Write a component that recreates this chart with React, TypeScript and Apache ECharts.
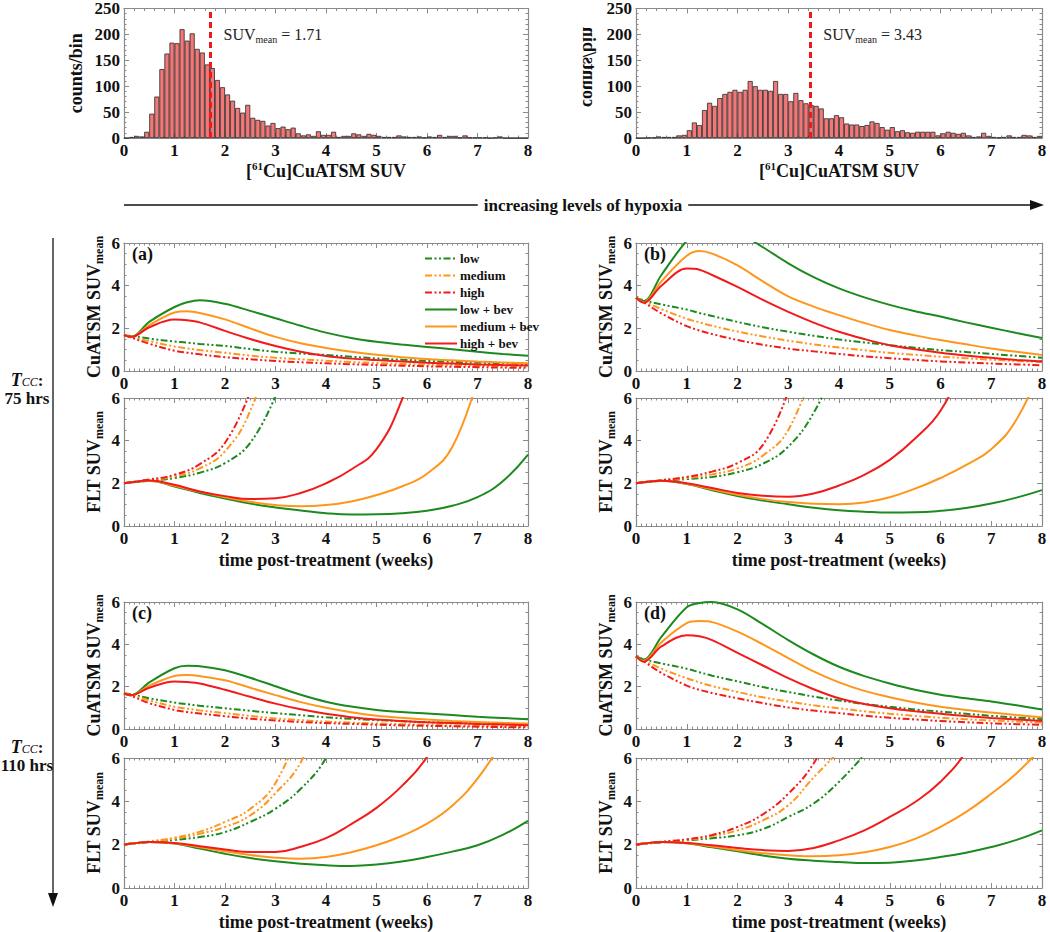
import React, { useEffect, useRef } from "react";
import * as echarts from "echarts";

const FONT = '"Liberation Serif", "DejaVu Serif", serif';
const GREEN = "#1c8a1f";
const ORANGE = "#ff961c";
const RED = "#f21b1b";
const FRAME = "#8a8a8a";
const INK = "#111111";
const BAR_FILL = "#f37777";

// ---------- histogram data (bin width 0.1, SUV 0..8) ----------
const BIN = 0.1;
const HIST_LOW = [
  0, 2, 4, 3, 12, 47, 80, 133, 163, 184, 183, 210, 188, 202, 172, 165, 142, 135, 112, 98,
  84, 72, 58, 49, 64, 39, 35, 33, 24, 29, 19, 22, 17, 20, 9, 5, 7, 4, 13, 6,
  6, 12, 2, 4, 4, 9, 7, 4, 8, 6, 4, 2, 2, 2, 5, 3, 2, 2, 3, 1,
  3, 2, 6, 2, 4, 4, 1, 5, 1, 1, 1, 1, 0, 1, 3, 0, 0, 0, 0, 0,
];
const HIST_HIGH = [
  0, 0, 1, 1, 3, 2, 2, 2, 5, 6, 15, 30, 25, 54, 68, 62, 77, 85, 89, 93,
  89, 93, 110, 100, 93, 93, 91, 110, 85, 85, 71, 87, 73, 67, 64, 62, 57, 38, 38, 44,
  40, 28, 26, 26, 23, 25, 32, 29, 21, 16, 21, 13, 15, 11, 10, 12, 12, 12, 12, 5,
  9, 12, 10, 8, 10, 5, 2, 3, 10, 4, 2, 1, 2, 5, 2, 2, 6, 5, 2, 4,
];
const MEAN_LOW = 1.71;
const MEAN_HIGH = 3.43;
const MEAN_LABEL_LOW_AT = [1.96, 200];
const MEAN_LABEL_HIGH_AT = [3.68, 200];

// ---------- model curves (time in weeks) ----------
const T_CU = [0, 0.15, 0.5, 1, 1.25, 1.5, 2, 2.5, 3, 3.5, 4, 4.5, 5, 5.5, 6, 6.5, 7, 7.5, 8];
const T_FLT = [0, 0.15, 0.5, 1, 1.5, 2, 2.5, 3, 3.5, 4, 4.5, 5, 5.5, 6, 6.5, 7, 7.5, 8];
const SERIES_NAMES = ["low", "medium", "high", "low + bev", "medium + bev", "high + bev"];

// (a) Tcc 75 h, low-hypoxia tumour
const A_CU_LOW = [1.68, 1.64, 1.52, 1.38, 1.33, 1.27, 1.17, 1.03, 0.9, 0.82, 0.75, 0.67, 0.59, 0.53, 0.47, 0.43, 0.39, 0.36, 0.33];
const A_CU_MED = [1.68, 1.6, 1.4, 1.15, 1.06, 0.98, 0.85, 0.72, 0.62, 0.55, 0.48, 0.42, 0.37, 0.33, 0.3, 0.27, 0.25, 0.23, 0.21];
const A_CU_HIGH = [1.68, 1.56, 1.28, 0.95, 0.86, 0.78, 0.65, 0.55, 0.47, 0.41, 0.36, 0.32, 0.28, 0.25, 0.22, 0.2, 0.18, 0.16, 0.15];
const A_CU_LOW_BEV = [1.68, 1.6, 2.3, 3.0, 3.22, 3.32, 3.15, 2.82, 2.47, 2.12, 1.8, 1.55, 1.37, 1.24, 1.13, 1.02, 0.9, 0.8, 0.72];
const A_CU_MED_BEV = [1.68, 1.6, 2.15, 2.74, 2.8, 2.72, 2.42, 2.0, 1.6, 1.3, 1.08, 0.9, 0.76, 0.65, 0.56, 0.5, 0.44, 0.4, 0.36];
const A_CU_HIGH_BEV = [1.68, 1.6, 2.05, 2.41, 2.38, 2.28, 1.88, 1.5, 1.17, 0.9, 0.7, 0.58, 0.51, 0.45, 0.39, 0.35, 0.31, 0.28, 0.26];
const A_FLT_LOW = [2.0, 2.04, 2.12, 2.25, 2.5, 2.95, 3.9, 6.1];
const A_FLT_MED = [2.0, 2.05, 2.15, 2.32, 2.7, 3.5, 5.4, 9.0];
const A_FLT_HIGH = [2.0, 2.06, 2.18, 2.4, 2.9, 3.9, 6.3];
const A_FLT_LOW_BEV = [2.0, 2.05, 2.12, 1.85, 1.55, 1.29, 1.05, 0.87, 0.73, 0.6, 0.54, 0.55, 0.6, 0.72, 0.95, 1.35, 2.1, 3.35];
const A_FLT_MED_BEV = [2.0, 2.05, 2.12, 1.88, 1.6, 1.35, 1.13, 0.98, 0.92, 0.98, 1.15, 1.45, 1.85, 2.45, 3.7, 6.9];
const A_FLT_HIGH_BEV = [2.0, 2.05, 2.13, 1.93, 1.62, 1.4, 1.26, 1.3, 1.55, 2.0, 2.65, 3.6, 5.9, 9.5];

// (b) Tcc 75 h, high-hypoxia tumour
const B_CU_LOW = [3.43, 3.32, 3.12, 2.88, 2.72, 2.58, 2.3, 2.05, 1.84, 1.65, 1.48, 1.34, 1.21, 1.09, 0.98, 0.89, 0.8, 0.71, 0.62];
const B_CU_MED = [3.43, 3.28, 2.9, 2.45, 2.28, 2.12, 1.85, 1.62, 1.42, 1.25, 1.1, 0.97, 0.85, 0.76, 0.67, 0.6, 0.53, 0.47, 0.42];
const B_CU_HIGH = [3.43, 3.22, 2.7, 2.1, 1.9, 1.73, 1.45, 1.23, 1.05, 0.92, 0.8, 0.69, 0.6, 0.52, 0.45, 0.4, 0.35, 0.31, 0.27];
const B_CU_LOW_BEV = [3.43, 3.28, 4.5, 6.1, 6.5, 6.8, 6.5, 5.8, 5.05, 4.4, 3.87, 3.45, 3.1, 2.8, 2.55, 2.28, 2.03, 1.78, 1.55];
const B_CU_MED_BEV = [3.43, 3.22, 4.2, 5.4, 5.62, 5.5, 4.95, 4.2, 3.5, 3.02, 2.62, 2.25, 1.92, 1.67, 1.45, 1.25, 1.06, 0.9, 0.75];
const B_CU_HIGH_BEV = [3.43, 3.2, 4.0, 4.8, 4.75, 4.5, 3.94, 3.33, 2.77, 2.27, 1.84, 1.5, 1.21, 1.02, 0.86, 0.73, 0.62, 0.52, 0.44];
const B_FLT_LOW = [2.0, 2.04, 2.12, 2.2, 2.3, 2.52, 2.92, 3.72, 5.3, 7.8];
const B_FLT_MED = [2.0, 2.05, 2.13, 2.25, 2.42, 2.7, 3.3, 4.5, 7.5];
const B_FLT_HIGH = [2.0, 2.06, 2.15, 2.3, 2.55, 2.95, 3.8, 6.3];
const B_FLT_LOW_BEV = [2.0, 2.05, 2.12, 1.97, 1.68, 1.4, 1.19, 1.02, 0.86, 0.74, 0.67, 0.63, 0.64, 0.71, 0.84, 1.05, 1.33, 1.68];
const B_FLT_MED_BEV = [2.0, 2.05, 2.12, 1.98, 1.72, 1.46, 1.26, 1.12, 1.04, 1.02, 1.1, 1.35, 1.75, 2.25, 2.85, 3.6, 5.0, 7.6];
const B_FLT_HIGH_BEV = [2.0, 2.05, 2.12, 2.0, 1.78, 1.55, 1.42, 1.37, 1.52, 1.9, 2.4, 3.1, 4.1, 5.4, 7.8];

// (c) Tcc 110 h, low-hypoxia tumour
const C_CU_LOW = [1.68, 1.64, 1.45, 1.25, 1.17, 1.1, 0.98, 0.86, 0.75, 0.65, 0.55, 0.48, 0.42, 0.37, 0.32, 0.29, 0.26, 0.23, 0.2];
const C_CU_MED = [1.68, 1.6, 1.35, 1.05, 0.96, 0.88, 0.75, 0.62, 0.5, 0.42, 0.35, 0.3, 0.26, 0.23, 0.2, 0.17, 0.15, 0.13, 0.12];
const C_CU_HIGH = [1.68, 1.56, 1.22, 0.9, 0.8, 0.73, 0.6, 0.49, 0.4, 0.33, 0.28, 0.24, 0.2, 0.17, 0.15, 0.13, 0.11, 0.09, 0.08];
const C_CU_LOW_BEV = [1.68, 1.6, 2.2, 2.87, 2.99, 2.97, 2.78, 2.42, 2.02, 1.62, 1.29, 1.06, 0.9, 0.8, 0.73, 0.66, 0.58, 0.52, 0.46];
const C_CU_MED_BEV = [1.68, 1.6, 2.05, 2.5, 2.55, 2.5, 2.3, 1.95, 1.6, 1.27, 1.0, 0.79, 0.63, 0.53, 0.45, 0.38, 0.33, 0.29, 0.26];
const C_CU_HIGH_BEV = [1.68, 1.6, 1.95, 2.25, 2.22, 2.15, 1.85, 1.52, 1.2, 0.93, 0.72, 0.56, 0.45, 0.38, 0.32, 0.28, 0.24, 0.21, 0.18];
const C_FLT_LOW = [2.0, 2.04, 2.12, 2.22, 2.35, 2.58, 3.05, 3.66, 4.58, 6.0, 8.5];
const C_FLT_MED = [2.0, 2.05, 2.13, 2.28, 2.5, 2.82, 3.35, 4.38, 5.8, 8.5];
const C_FLT_HIGH = [2.0, 2.06, 2.15, 2.32, 2.6, 3.05, 3.65, 4.85, 7.5];
const C_FLT_LOW_BEV = [2.0, 2.05, 2.12, 2.05, 1.82, 1.58, 1.38, 1.23, 1.12, 1.05, 1.02, 1.08, 1.22, 1.43, 1.68, 1.97, 2.45, 3.1];
const C_FLT_MED_BEV = [2.0, 2.05, 2.12, 2.06, 1.88, 1.7, 1.52, 1.4, 1.35, 1.43, 1.65, 1.97, 2.4, 2.97, 3.8, 5.05, 6.8];
const C_FLT_HIGH_BEV = [2.0, 2.05, 2.12, 2.08, 1.93, 1.78, 1.66, 1.66, 1.9, 2.3, 2.95, 3.7, 4.7, 6.05, 8.3];

// (d) Tcc 110 h, high-hypoxia tumour
const D_CU_LOW = [3.43, 3.3, 3.1, 2.85, 2.68, 2.52, 2.25, 1.98, 1.75, 1.53, 1.35, 1.18, 1.05, 0.92, 0.82, 0.72, 0.62, 0.54, 0.47];
const D_CU_MED = [3.43, 3.25, 2.85, 2.4, 2.2, 2.03, 1.75, 1.5, 1.3, 1.12, 0.98, 0.84, 0.72, 0.62, 0.53, 0.46, 0.4, 0.35, 0.3];
const D_CU_HIGH = [3.43, 3.2, 2.65, 2.05, 1.85, 1.7, 1.45, 1.22, 1.02, 0.87, 0.75, 0.63, 0.53, 0.45, 0.38, 0.32, 0.27, 0.23, 0.2];
const D_CU_LOW_BEV = [3.43, 3.28, 4.35, 5.75, 5.95, 6.0, 5.65, 4.95, 4.2, 3.52, 2.94, 2.5, 2.15, 1.85, 1.62, 1.45, 1.3, 1.12, 0.92];
const D_CU_MED_BEV = [3.43, 3.22, 4.1, 5.0, 5.1, 5.05, 4.6, 4.0, 3.35, 2.72, 2.2, 1.8, 1.5, 1.25, 1.05, 0.9, 0.78, 0.66, 0.55];
const D_CU_HIGH_BEV = [3.43, 3.18, 3.9, 4.43, 4.38, 4.2, 3.6, 3.0, 2.4, 1.88, 1.45, 1.18, 0.98, 0.84, 0.72, 0.61, 0.52, 0.45, 0.38];
const D_FLT_LOW = [2.0, 2.04, 2.1, 2.2, 2.3, 2.43, 2.72, 3.28, 3.9, 4.9, 6.15];
const D_FLT_MED = [2.0, 2.05, 2.12, 2.22, 2.4, 2.66, 3.12, 3.82, 5.1, 6.3];
const D_FLT_HIGH = [2.0, 2.05, 2.13, 2.25, 2.45, 2.82, 3.4, 4.35, 5.75, 8.0];
const D_FLT_LOW_BEV = [2.0, 2.05, 2.12, 2.06, 1.88, 1.69, 1.5, 1.35, 1.26, 1.2, 1.15, 1.17, 1.27, 1.43, 1.63, 1.89, 2.22, 2.66];
const D_FLT_MED_BEV = [2.0, 2.05, 2.12, 2.07, 1.92, 1.74, 1.6, 1.51, 1.46, 1.51, 1.65, 1.89, 2.27, 2.82, 3.5, 4.35, 5.3, 6.5];
const D_FLT_HIGH_BEV = [2.0, 2.05, 2.12, 2.08, 1.97, 1.85, 1.75, 1.71, 1.85, 2.2, 2.66, 3.28, 3.97, 4.9, 6.3, 8.5];

// ---------- styling / layout ----------
const SERIES_COLORS = [GREEN, ORANGE, RED, GREEN, ORANGE, RED];
const DASH_DOT_DOT = [7, 2.5, 2, 2.5, 2, 2.5];
const COL_X = [124, 636];
const COL_W = [404, 406];
const HIST_RECT = { top: 8, height: 130 };
const ROW_RECTS = [
  { cuTop: 243, cuH: 128, fltTop: 398, fltH: 128 },
  { cuTop: 602, cuH: 127, fltTop: 758, fltH: 130 },
];

const PANELS = [
  { label: "(a)", col: 0, row: 0,
    cu: [A_CU_LOW, A_CU_MED, A_CU_HIGH, A_CU_LOW_BEV, A_CU_MED_BEV, A_CU_HIGH_BEV],
    flt: [A_FLT_LOW, A_FLT_MED, A_FLT_HIGH, A_FLT_LOW_BEV, A_FLT_MED_BEV, A_FLT_HIGH_BEV],
    fltColors: SERIES_COLORS },
  { label: "(b)", col: 1, row: 0,
    cu: [B_CU_LOW, B_CU_MED, B_CU_HIGH, B_CU_LOW_BEV, B_CU_MED_BEV, B_CU_HIGH_BEV],
    flt: [B_FLT_LOW, B_FLT_MED, B_FLT_HIGH, B_FLT_LOW_BEV, B_FLT_MED_BEV, B_FLT_HIGH_BEV],
    fltColors: SERIES_COLORS },
  { label: "(c)", col: 0, row: 1,
    cu: [C_CU_LOW, C_CU_MED, C_CU_HIGH, C_CU_LOW_BEV, C_CU_MED_BEV, C_CU_HIGH_BEV],
    flt: [C_FLT_LOW, C_FLT_MED, C_FLT_HIGH, C_FLT_LOW_BEV, C_FLT_MED_BEV, C_FLT_HIGH_BEV],
    fltColors: [GREEN, ORANGE, ORANGE, GREEN, ORANGE, RED] },
  { label: "(d)", col: 1, row: 1,
    cu: [D_CU_LOW, D_CU_MED, D_CU_HIGH, D_CU_LOW_BEV, D_CU_MED_BEV, D_CU_HIGH_BEV],
    flt: [D_FLT_LOW, D_FLT_MED, D_FLT_HIGH, D_FLT_LOW_BEV, D_FLT_MED_BEV, D_FLT_HIGH_BEV],
    fltColors: SERIES_COLORS },
];

const tickLabel = { fontFamily: FONT, fontWeight: "bold", fontSize: 17, color: INK, margin: 4 };

const yNameStyle = {
  fontFamily: FONT,
  color: INK,
  rich: {
    m: { fontFamily: FONT, fontWeight: "bold", fontSize: 18, color: INK, lineHeight: 22 },
    s: { fontFamily: FONT, fontWeight: "bold", fontSize: 12, color: INK, lineHeight: 10, verticalAlign: "bottom" },
  },
};

function buildOption() {
  const grids: any[] = [];
  const xAxes: any[] = [];
  const yAxes: any[] = [];
  const series: any[] = [];

  const axisCommon = (minor: number) => ({
    axisLine: { show: true, onZero: false, lineStyle: { color: FRAME, width: 1.2 } },
    axisTick: { show: true, inside: true, length: 5, lineStyle: { color: FRAME, width: 1 } },
    minorTick: { show: true, splitNumber: minor, length: 2.5, lineStyle: { color: FRAME, width: 1 } },
    splitLine: { show: false },
    minorSplitLine: { show: false },
  });

  function addFrame(rect: any, xCfg: any, yCfg: any) {
    const gi = grids.length;
    grids.push({ left: rect.left, top: rect.top, width: rect.width, height: rect.height, containLabel: false });
    const xi = xAxes.length;
    const xBase = { type: "value", gridIndex: gi, min: xCfg.min, max: xCfg.max, interval: xCfg.interval, ...axisCommon(xCfg.minor) };
    xAxes.push({
      ...xBase, position: "bottom",
      axisLabel: { ...tickLabel, show: true },
      name: xCfg.name || "", nameLocation: "middle", nameGap: xCfg.nameGap || 0, nameTextStyle: xCfg.nameStyle,
    });
    xAxes.push({ ...xBase, position: "top", axisLabel: { show: false } });
    const yi = yAxes.length;
    const yBase = { type: "value", gridIndex: gi, min: yCfg.min, max: yCfg.max, interval: yCfg.interval, ...axisCommon(yCfg.minor) };
    yAxes.push({
      ...yBase, position: "left",
      axisLabel: { ...tickLabel, show: true },
      name: yCfg.name || "", nameLocation: "middle", nameRotate: 90, nameGap: yCfg.nameGap || 0, nameTextStyle: yCfg.nameStyle,
    });
    yAxes.push({ ...yBase, position: "right", axisLabel: { show: false } });
    return { xi, yi };
  }

  // ---- histograms ----
  const histXName = {
    name: "{m|[}{p|61}{m|Cu]CuATSM SUV}",
    nameGap: 22,
    nameStyle: {
      fontFamily: FONT, color: INK,
      rich: {
        m: { fontFamily: FONT, fontWeight: "bold", fontSize: 18, color: INK, lineHeight: 22 },
        p: { fontFamily: FONT, fontWeight: "bold", fontSize: 11, color: INK, lineHeight: 12, verticalAlign: "top" },
      },
    },
  };
  const hists = [
    { data: HIST_LOW, mean: MEAN_LOW, labelAt: MEAN_LABEL_LOW_AT, col: 0, yName: true },
    { data: HIST_HIGH, mean: MEAN_HIGH, labelAt: MEAN_LABEL_HIGH_AT, col: 1, yName: false },
  ];
  hists.forEach((h) => {
    const { xi, yi } = addFrame(
      { left: COL_X[h.col], top: HIST_RECT.top, width: COL_W[h.col], height: HIST_RECT.height },
      { min: 0, max: 8, interval: 1, minor: 5, ...histXName },
      {
        min: 0, max: 250, interval: 50, minor: 5,
        name: h.yName ? "counts/bin" : "",
        nameGap: 39,
        nameStyle: { fontFamily: FONT, fontWeight: "bold", fontSize: 18, color: INK },
      }
    );
    series.push({
      type: "bar",
      xAxisIndex: xi,
      yAxisIndex: yi,
      barWidth: COL_W[h.col] / h.data.length,
      data: h.data.map((c, i) => [(i + 0.5) * BIN, c]),
      itemStyle: { color: BAR_FILL, borderColor: "#2a2a2a", borderWidth: 0.8 },
      silent: true,
      markLine: {
        silent: true,
        symbol: ["none", "none"],
        label: { show: false },
        lineStyle: { color: "#ea1b1b", type: [6, 4], width: 3 },
        data: [{ xAxis: h.mean }],
      },
      markPoint: {
        silent: true,
        symbol: "rect",
        symbolSize: 1,
        itemStyle: { color: "rgba(0,0,0,0)" },
        label: {
          show: true,
          position: "right",
          distance: 0,
          formatter: `{a|SUV}{b|mean}{a| = ${h.mean.toFixed(2)}}`,
          rich: {
            a: { fontFamily: FONT, fontSize: 16, color: "#222", lineHeight: 20 },
            b: { fontFamily: FONT, fontSize: 10, color: "#222", lineHeight: 10, verticalAlign: "bottom" },
          },
        },
        data: [{ coord: h.labelAt }],
      },
    });
  });

  // ---- model panels ----
  const timeName = {
    name: "time post-treatment (weeks)",
    nameGap: 25,
    nameStyle: { fontFamily: FONT, fontWeight: "bold", fontSize: 18, color: INK },
  };
  PANELS.forEach((p) => {
    const r = ROW_RECTS[p.row];
    const left = COL_X[p.col];
    const width = COL_W[p.col];
    const cuAxes = addFrame(
      { left, top: r.cuTop, width, height: r.cuH },
      { min: 0, max: 8, interval: 1, minor: 10 },
      { min: 0, max: 6, interval: 2, minor: 4, name: "{m|CuATSM SUV}{s|mean}", nameGap: 19, nameStyle: yNameStyle }
    );
    const fltAxes = addFrame(
      { left, top: r.fltTop, width, height: r.fltH },
      { min: 0, max: 8, interval: 1, minor: 10, ...timeName },
      { min: 0, max: 6, interval: 2, minor: 4, name: "{m|FLT SUV}{s|mean}", nameGap: 19, nameStyle: yNameStyle }
    );
    const addLines = (sets: number[][], times: number[], axes: any, colors: string[], smooth: number) => {
      sets.forEach((vals, k) => {
        const dashed = k < 3;
        series.push({
          type: "line",
          name: SERIES_NAMES[k],
          xAxisIndex: axes.xi,
          yAxisIndex: axes.yi,
          data: vals.map((v, j) => [times[j], v]),
          symbol: "none",
          showSymbol: false,
          smooth,
          clip: true,
          silent: true,
          z: dashed ? 2 : 3,
          color: colors[k],
          lineStyle: { color: colors[k], width: 2, type: dashed ? DASH_DOT_DOT : "solid" },
          itemStyle: { color: colors[k] },
        });
      });
    };
    addLines(p.cu, T_CU, cuAxes, SERIES_COLORS, 0.35);
    addLines(p.flt, T_FLT, fltAxes, p.fltColors, 0.45);
  });

  // ---- decorations ----
  const graphic: any[] = [
    { type: "line", shape: { x1: 124, y1: 205, x2: 1032, y2: 205 }, style: { stroke: INK, lineWidth: 1.5 } },
    { type: "polygon", shape: { points: [[1044, 205], [1030, 200], [1030, 210]] }, style: { fill: INK } },
    {
      type: "text", x: 583, y: 205,
      style: {
        text: "increasing levels of hypoxia", font: `bold 17px ${FONT}`, fill: INK,
        align: "center", verticalAlign: "middle", textAlign: "center", textVerticalAlign: "middle",
        backgroundColor: "#fff", padding: [2, 6],
      },
    },
    { type: "line", shape: { x1: 53, y1: 238, x2: 53, y2: 895 }, style: { stroke: "#333", lineWidth: 1.5 } },
    { type: "polygon", shape: { points: [[53, 907], [48, 893], [58, 893]] }, style: { fill: INK } },
    {
      type: "text", x: 589, y: 67, rotation: Math.PI / 2, scaleY: -1,
      style: {
        text: "counts/bin", font: `bold 18px ${FONT}`, fill: INK,
        align: "center", verticalAlign: "middle", textAlign: "center", textVerticalAlign: "middle",
      },
    },
  ];
  const tccLabels = [
    { y: 380, hrs: "75 hrs" },
    { y: 747, hrs: "110 hrs" },
  ];
  tccLabels.forEach((t) => {
    graphic.push({
      type: "text", x: 27, y: t.y,
      style: {
        text: "{t|T}{c|CC}{n|:}",
        align: "center", verticalAlign: "middle", textAlign: "center", textVerticalAlign: "middle",
        rich: {
          t: { fontFamily: FONT, fontStyle: "italic", fontWeight: "bold", fontSize: 18, fill: INK, color: INK, lineHeight: 16 },
          c: { fontFamily: FONT, fontStyle: "italic", fontSize: 12, fill: INK, color: INK, lineHeight: 8, verticalAlign: "bottom" },
          n: { fontFamily: FONT, fontWeight: "bold", fontSize: 17, fill: INK, color: INK, lineHeight: 16 },
        },
      },
    });
    graphic.push({
      type: "text", x: 27, y: t.y + 18,
      style: {
        text: t.hrs, font: `bold 17px ${FONT}`, fill: INK,
        align: "center", verticalAlign: "middle", textAlign: "center", textVerticalAlign: "middle",
      },
    });
  });
  PANELS.forEach((p) => {
    graphic.push({
      type: "text", x: COL_X[p.col] + 8, y: ROW_RECTS[p.row].cuTop + 11,
      style: {
        text: p.label, font: `bold 18px ${FONT}`, fill: INK,
        align: "left", verticalAlign: "middle", textAlign: "left", textVerticalAlign: "middle",
      },
    });
  });

  return {
    animation: false,
    backgroundColor: "#ffffff",
    grid: grids,
    xAxis: xAxes,
    yAxis: yAxes,
    series,
    graphic,
    legend: {
      show: true,
      left: 419,
      top: 246,
      orient: "vertical",
      itemWidth: 32,
      itemHeight: 10,
      itemGap: 2,
      selectedMode: false,
      data: SERIES_NAMES,
      itemStyle: { opacity: 0 },
      textStyle: { fontFamily: FONT, fontWeight: "bold", fontSize: 13, color: INK, lineHeight: 15, padding: [0, 0, 0, -2] },
    },
  };
}

export default function App() {
  const ref = useRef<HTMLDivElement>(null);
  useEffect(() => {
    if (!ref.current) return;
    const chart = echarts.init(ref.current, null, { renderer: "svg" });
    chart.setOption(buildOption() as any);
    return () => chart.dispose();
  }, []);
  return (
    <div
      ref={ref}
      style={{ position: "absolute", left: 0, top: 0, width: 1050, height: 932, background: "#ffffff" }}
    />
  );
}
